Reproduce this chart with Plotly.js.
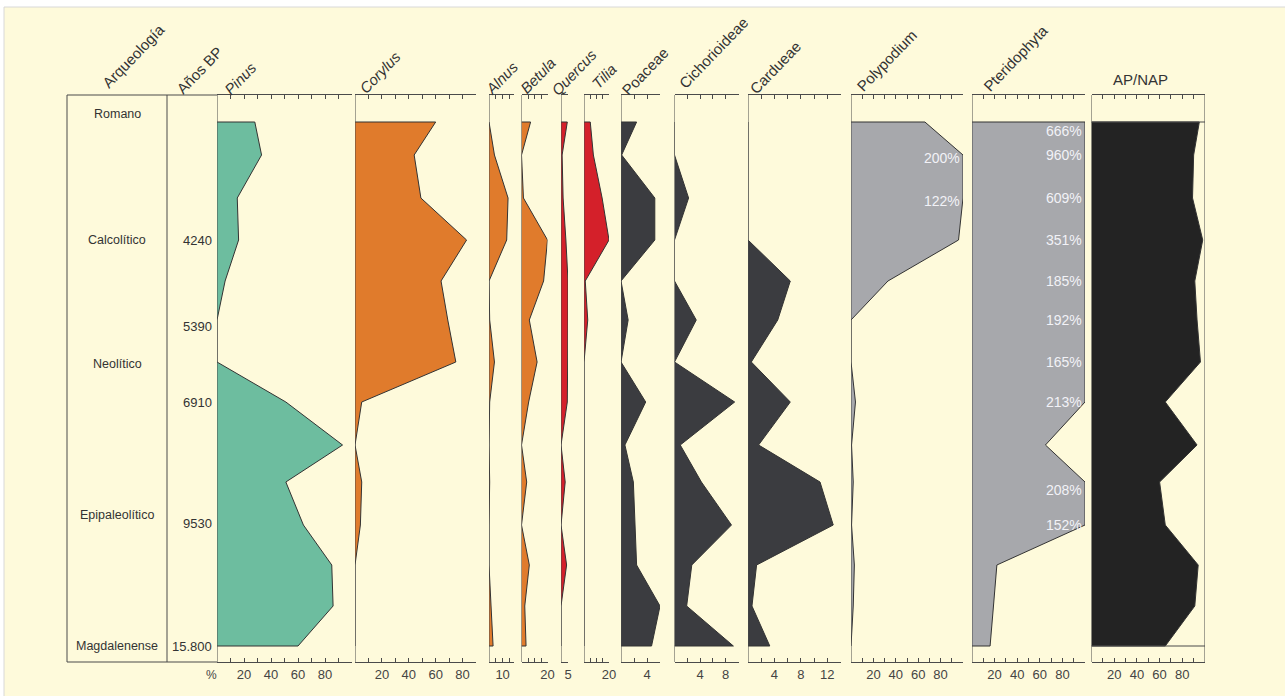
<!DOCTYPE html>
<html><head><meta charset="utf-8">
<script src="https://cdn.plot.ly/plotly-3.0.1.min.js"></script>
<style>html,body{margin:0;padding:0;background:#fff;}#chart{width:1285px;height:696px;}</style>
</head><body><div id="chart"></div>
<script>
// ---- DATA (sample depths, pollen percentages) ----
const depths        = [0, 33, 76, 118, 159, 198, 240, 280, 323, 360, 403, 443, 484, 524];
const pinus         = [28, 33, 15, 16, 6, 0, 0, 51, 93, 51, 64, 85, 86, 60];
const corylus       = [60, 44, 49, 83, 64, 69, 75, 5, 0, 5, 4, 0, 0, 0];
const alnus         = [0, 4, 14, 13, 0, 0.5, 4, 0.5, 0, 0.5, 0, 0, 1.5, 3];
const betula        = [7, 0, 1.5, 21, 17, 6, 12, 5.5, 0, 4, 0, 6, 2.5, 3.5];
const quercus       = [4.5, 0.8, 1.5, 3.5, 5.5, 6, 6, 4.5, 0, 3, 0, 4, 0, 0];
const tilia         = [5, 7.5, 14.5, 21, 1, 3, 0, 0, 0, 0, 0, 0, 0, 0];
const poaceae       = [2.4, 0.1, 5.2, 5.2, 0, 1.1, 0, 3.8, 0.6, 1.9, 2.2, 2.4, 6.0, 4.7];
const cichorioideae = [0, 0, 2.2, 0, 0, 3.4, 0, 9.4, 0.9, 4.2, 8.9, 2.7, 1.9, 9.2];
const cardueae      = [0, 0, 0, 0, 6.4, 4.5, 0.5, 6.4, 1.6, 10.9, 12.9, 1.3, 0.6, 3.3];
const polypodium    = [66, 200, 122, 96, 33, 0, 0, 4, 0.5, 2, 0.5, 3, 2, 0];
const pteridophyta  = [666, 960, 609, 351, 185, 192, 165, 213, 65, 208, 152, 22, 19, 16];
const apnap         = [95, 90, 89, 98, 91, 93, 96, 65, 93, 60, 65, 94, 91, 65];

const archLabels = ['Romano', 'Calcolítico', 'Neolítico', 'Epipaleolítico', 'Magdalenense'];
const archDepths = [-8, 118, 242, 393, 524];
const ageLabels  = ['4240', '5390', '6910', '9530', '15.800'];
const ageDepths  = [118, 204, 280, 401, 524];

const taxa = ['Pinus','Corylus','Alnus','Betula','Quercus','Tilia','Poaceae','Cichorioideae','Cardueae','Polypodium','Pteridophyta','AP/NAP'];
const seriesList = [pinus, corylus, alnus, betula, quercus, tilia, poaceae, cichorioideae, cardueae, polypodium, pteridophyta, apnap];
const axisMax   = [100, 90, 18, 20, 5, 20, 6, 10, 14, 100, 100, 100];
const tickStep  = [10, 10, 5, 5, 5, 5, 2, 2, 2, 10, 10, 10];
const tickLabelled = [[20,40,60,80],[20,40,60,80],[10],[20],[5],[20],[4],[4,8],[4,8,12],[20,40,60,80],[20,40,60,80],[20,40,60,80]];

// ---- LAYOUT / STYLE ----
const W = 1285, H = 696, TOP = 95, BOT = 662;
const FONT = "'Liberation Sans Narrow', 'Arial Narrow', 'Liberation Sans', Arial, sans-serif";
const TXT = '#333333', AXC = '#4a4a4a', CREAM = '#FEFADB';
const px = x => x / W;
const py = y => (BOT - y) / (BOT - TOP);

const panelPx = [[217,352],[355,476],[489,513.5],[521.5,547.5],[561,568],[584,609],[621,660],[674.5,738.5],[748,840.5],[851,963],[972,1085],[1091.5,1205]];
const colors = ['#6dbd9f','#e07b2c','#e07b2c','#e07b2c','#d4202a','#d4202a','#3b3c40','#3b3c40','#3b3c40','#a7a8ac','#a7a8ac','#232323'];
const italic = [true,true,true,true,true,true,false,false,false,false,false,false];
const headerPos = [[240,78],[380,73],[501,78],[538,76],[574,73],[604,77],[645,72],[714,53],[775,67],[887,61],[1015,58]];

const traces = [], layout = {
  width: W, height: H, autosize: false,
  margin: {l: 0, r: 0, t: TOP, b: H - BOT, pad: 0},
  paper_bgcolor: CREAM, plot_bgcolor: 'rgba(0,0,0,0)',
  showlegend: false,
  font: {family: FONT, color: TXT, size: 13},
  yaxis: {domain: [0,1], range: [540, -27], visible: false, fixedrange: true},
  shapes: [], annotations: []
};

function note(o) {
  layout.annotations.push(Object.assign({xanchor: 'center', yanchor: 'middle', showarrow: false}, o));
}

seriesList.forEach((vals, i) => {
  const n = i === 0 ? '' : String(i + 1);
  const shown = vals.map(v => Math.min(v, axisMax[i]));
  traces.push({
    type: 'scatter', mode: 'lines', xaxis: 'x' + n, yaxis: 'y',
    x: [0, ...shown, 0],
    y: [depths[0], ...depths, depths[depths.length - 1]],
    fill: 'toself', fillcolor: colors[i],
    line: {color: '#333333', width: 1}, hoverinfo: 'skip'
  });
  const tv = [], tt = [];
  for (let v = 0; v <= axisMax[i] + 1e-9; v += tickStep[i]) {
    tv.push(v); tt.push(tickLabelled[i].includes(v) ? String(v) : '');
  }
  layout['xaxis' + n] = {
    domain: [px(panelPx[i][0]), px(panelPx[i][1])], range: [0, axisMax[i]],
    anchor: 'y', showline: true, linecolor: AXC, linewidth: 1, mirror: 'ticks',
    ticks: 'inside', ticklen: 4, tickwidth: 1, tickcolor: AXC,
    tickmode: 'array', tickvals: tv, ticktext: tt,
    tickfont: {family: FONT, size: 13, color: '#444'},
    showgrid: false, zeroline: false, fixedrange: true
  };
  layout.shapes.push({type: 'line', xref: 'x' + n, yref: 'paper', x0: 0, x1: 0, y0: 0, y1: 1,
    line: {color: AXC, width: 1}});
  if (i < headerPos.length) {
    note({xref: 'paper', yref: 'paper', x: px(headerPos[i][0]), y: py(headerPos[i][1]), textangle: -46,
      text: italic[i] ? '<i>' + taxa[i] + '</i>' : taxa[i],
      font: {family: FONT, size: 15, color: TXT}});
  }
});

// AP/NAP box
layout.shapes.push({type: 'line', xref: 'x12', yref: 'paper', x0: 100, x1: 100, y0: 0, y1: 1, line: {color: AXC, width: 1}});
layout.shapes.push({type: 'line', xref: 'x12', yref: 'y', x0: 0, x1: 100, y0: depths[0], y1: depths[0], line: {color: AXC, width: 1}});
layout.shapes.push({type: 'line', xref: 'x12', yref: 'y', x0: 0, x1: 100, y0: depths[depths.length-1], y1: depths[depths.length-1], line: {color: AXC, width: 1}});
note({xref: 'paper', yref: 'paper', x: px(1140), y: py(80), text: 'AP/NAP', font: {family: FONT, size: 15, color: TXT}});

// Arqueología / Años BP columns
[67, 167].forEach(x => layout.shapes.push({type: 'line', xref: 'paper', yref: 'paper', x0: px(x), x1: px(x), y0: 0, y1: 1, line: {color: AXC, width: 1}}));
[0, 1].forEach(y => layout.shapes.push({type: 'line', xref: 'paper', yref: 'paper', x0: px(67), x1: px(217), y0: y, y1: y, line: {color: AXC, width: 1}}));
note({xref: 'paper', yref: 'paper', x: px(134), y: py(56), textangle: -46, text: 'Arqueología', font: {family: FONT, size: 15, color: TXT}});
note({xref: 'paper', yref: 'paper', x: px(199), y: py(70), textangle: -46, text: 'Años BP', font: {family: FONT, size: 15, color: TXT}});
archLabels.forEach((t, k) => note({xref: 'paper', yref: 'y', x: px(117), y: archDepths[k],
  text: t, font: {family: FONT, size: 12.5, color: TXT}}));
ageLabels.forEach((t, k) => note({xref: 'paper', yref: 'y', x: px(214), y: ageDepths[k], xanchor: 'right',
  text: t, font: {family: FONT, size: 13, color: TXT}}));
note({xref: 'paper', yref: 'paper', x: px(211), y: py(675), text: '%', font: {family: FONT, size: 12, color: '#444'}});

// over-range percentage labels
polypodium.forEach((v, k) => { if (v > 100) note({xref: 'x10', yref: 'y', x: 100, y: depths[k],
  xanchor: 'right', xshift: -1, yshift: -3, text: v + '%',
  font: {family: FONT, size: 14, color: '#f2f2f7'}}); });
pteridophyta.forEach((v, k) => { if (v > 100) note({xref: 'x11', yref: 'y', x: 100, y: depths[k],
  xanchor: 'right', xshift: -1, yshift: k === 0 ? -9 : (k === 9 ? -8 : 0), text: v + '%',
  font: {family: FONT, size: 14, color: '#f2f2f7'}}); });

// white frame strip at top/left
layout.shapes.push({type: 'rect', xref: 'paper', yref: 'paper', x0: px(-5), x1: px(W + 5), y0: py(7), y1: py(-5),
  fillcolor: '#ffffff', line: {width: 0}, layer: 'below'});
layout.shapes.push({type: 'rect', xref: 'paper', yref: 'paper', x0: px(-5), x1: px(4), y0: py(H + 5), y1: py(-5),
  fillcolor: '#ffffff', line: {width: 0}, layer: 'below'});
layout.shapes.push({type: 'line', xref: 'paper', yref: 'paper', x0: px(4), x1: px(W + 5), y0: py(7), y1: py(7),
  line: {color: '#d8d8d8', width: 1}, layer: 'below'});
layout.shapes.push({type: 'line', xref: 'paper', yref: 'paper', x0: px(4), x1: px(4), y0: py(7), y1: py(H + 5),
  line: {color: '#d8d8d8', width: 1}, layer: 'below'});

Plotly.newPlot('chart', traces, layout, {displayModeBar: false, staticPlot: true});
</script></body></html>
